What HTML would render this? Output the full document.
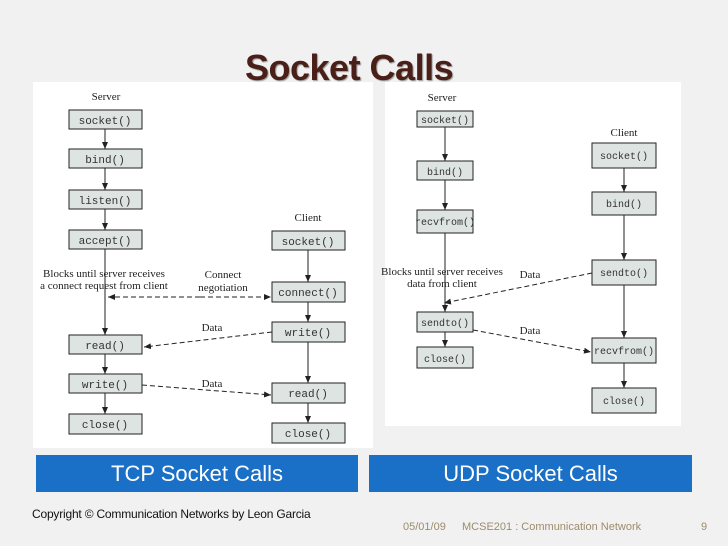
<!DOCTYPE html>
<html><head><style>
body{margin:0;width:728px;height:546px;overflow:hidden;background:#f1f1f1;font-family:"Liberation Sans",sans-serif;position:relative}
.p{position:absolute;background:#fff}
.t{position:absolute;white-space:nowrap}
svg{position:absolute;left:0;top:0}
</style></head><body>
<div class="p" style="left:33px;top:82px;width:340px;height:366px"></div>
<div class="p" style="left:385px;top:82px;width:296px;height:344px"></div>
<div class="t" style="left:245px;top:47px;font-size:36px;font-weight:bold;color:#4a1f18;text-shadow:1px 1px 1px #999;letter-spacing:-0.5px">Socket Calls</div>
<svg width="728" height="546" font-family="Liberation Serif" font-size="11">
<defs><marker id="a" markerWidth="8" markerHeight="8" refX="7" refY="4" orient="auto" markerUnits="userSpaceOnUse"><path d="M0,1 L7,4 L0,7 z" fill="#222"/></marker></defs>
<g fill="#dde4e1" stroke="#222" stroke-width="1">
<rect x="69" y="110" width="73" height="19"/><rect x="69" y="149" width="73" height="19"/><rect x="69" y="190" width="73" height="19"/><rect x="69" y="230" width="73" height="19"/><rect x="69" y="335" width="73" height="19"/><rect x="69" y="374" width="73" height="19"/><rect x="69" y="414" width="73" height="20"/>
<rect x="272" y="231" width="73" height="19"/><rect x="272" y="282" width="73" height="20"/><rect x="272" y="322" width="73" height="20"/><rect x="272" y="383" width="73" height="20"/><rect x="272" y="423" width="73" height="20"/>
<rect x="417" y="111" width="56" height="16"/><rect x="417" y="161" width="56" height="19"/><rect x="417" y="210" width="56" height="23"/><rect x="417" y="312" width="56" height="20"/><rect x="417" y="347" width="56" height="21"/>
<rect x="592" y="143" width="64" height="25"/><rect x="592" y="192" width="64" height="23"/><rect x="592" y="260" width="64" height="25"/><rect x="592" y="338" width="64" height="25"/><rect x="592" y="388" width="64" height="25"/>
</g>
<g font-family="Liberation Mono" font-size="11" fill="#333" text-anchor="middle">
<text x="105" y="124">socket()</text><text x="105" y="163">bind()</text><text x="105" y="204">listen()</text><text x="105" y="244">accept()</text><text x="105" y="349">read()</text><text x="105" y="388">write()</text><text x="105" y="428">close()</text>
<text x="308" y="245">socket()</text><text x="308" y="296">connect()</text><text x="308" y="336">write()</text><text x="308" y="397">read()</text><text x="308" y="437">close()</text>
<g font-size="10"><text x="445" y="123">socket()</text><text x="445" y="175">bind()</text><text x="445" y="225">recvfrom()</text><text x="445" y="326">sendto()</text><text x="445" y="362">close()</text>
<text x="624" y="159">socket()</text><text x="624" y="207">bind()</text><text x="624" y="276">sendto()</text><text x="624" y="354">recvfrom()</text><text x="624" y="404">close()</text></g>
</g>
<g fill="#222" text-anchor="middle">
<text x="106" y="100">Server</text><text x="308" y="221">Client</text>
<text x="104" y="277">Blocks until server receives</text><text x="104" y="289">a connect request from client</text>
<text x="223" y="278">Connect</text><text x="223" y="291">negotiation</text>
<text x="212" y="331">Data</text><text x="212" y="387">Data</text>
<text x="442" y="101">Server</text><text x="624" y="136">Client</text>
<text x="442" y="275">Blocks until server receives</text><text x="442" y="287">data from client</text>
<text x="530" y="278">Data</text><text x="530" y="334">Data</text>
</g>
<g stroke="#222" stroke-width="1" fill="none" marker-end="url(#a)">
<line x1="105" y1="129" x2="105" y2="149"/><line x1="105" y1="168" x2="105" y2="190"/><line x1="105" y1="209" x2="105" y2="230"/><line x1="105" y1="249" x2="105" y2="335"/><line x1="105" y1="354" x2="105" y2="374"/><line x1="105" y1="393" x2="105" y2="414"/>
<line x1="308" y1="250" x2="308" y2="282"/><line x1="308" y1="302" x2="308" y2="322"/><line x1="308" y1="342" x2="308" y2="383"/><line x1="308" y1="403" x2="308" y2="423"/>
<line x1="445" y1="127" x2="445" y2="161"/><line x1="445" y1="180" x2="445" y2="210"/><line x1="445" y1="233" x2="445" y2="312"/><line x1="445" y1="332" x2="445" y2="347"/>
<line x1="624" y1="168" x2="624" y2="192"/><line x1="624" y1="215" x2="624" y2="260"/><line x1="624" y1="285" x2="624" y2="338"/><line x1="624" y1="363" x2="624" y2="388"/>
</g>
<g stroke="#222" stroke-width="1" fill="none" stroke-dasharray="5,3" marker-end="url(#a)">
<line x1="200" y1="297" x2="271" y2="297"/><line x1="200" y1="297" x2="108" y2="297"/>
<line x1="272" y1="332" x2="144" y2="347"/><line x1="142" y1="385" x2="271" y2="395"/>
<line x1="592" y1="273" x2="444" y2="303"/><line x1="473" y1="330" x2="591" y2="352"/>
</g>
</svg>
<div class="t" style="left:36px;top:455px;width:322px;height:37px;background:#1a70c6;color:#fff;font-size:22px;line-height:37px;text-align:center">TCP Socket Calls</div>
<div class="t" style="left:369px;top:455px;width:323px;height:37px;background:#1a70c6;color:#fff;font-size:22px;line-height:37px;text-align:center">UDP Socket Calls</div>
<div class="t" style="left:32px;top:507px;font-size:12px;color:#111;letter-spacing:-0.2px">Copyright © Communication Networks by Leon Garcia</div>
<div class="t" style="left:403px;top:521px;font-size:11px;color:#9c8c6c">05/01/09</div>
<div class="t" style="left:462px;top:521px;font-size:11px;color:#9c8c6c">MCSE201 : Communication Network</div>
<div class="t" style="left:701px;top:521px;font-size:11px;color:#9c8c6c">9</div>
</body></html>
